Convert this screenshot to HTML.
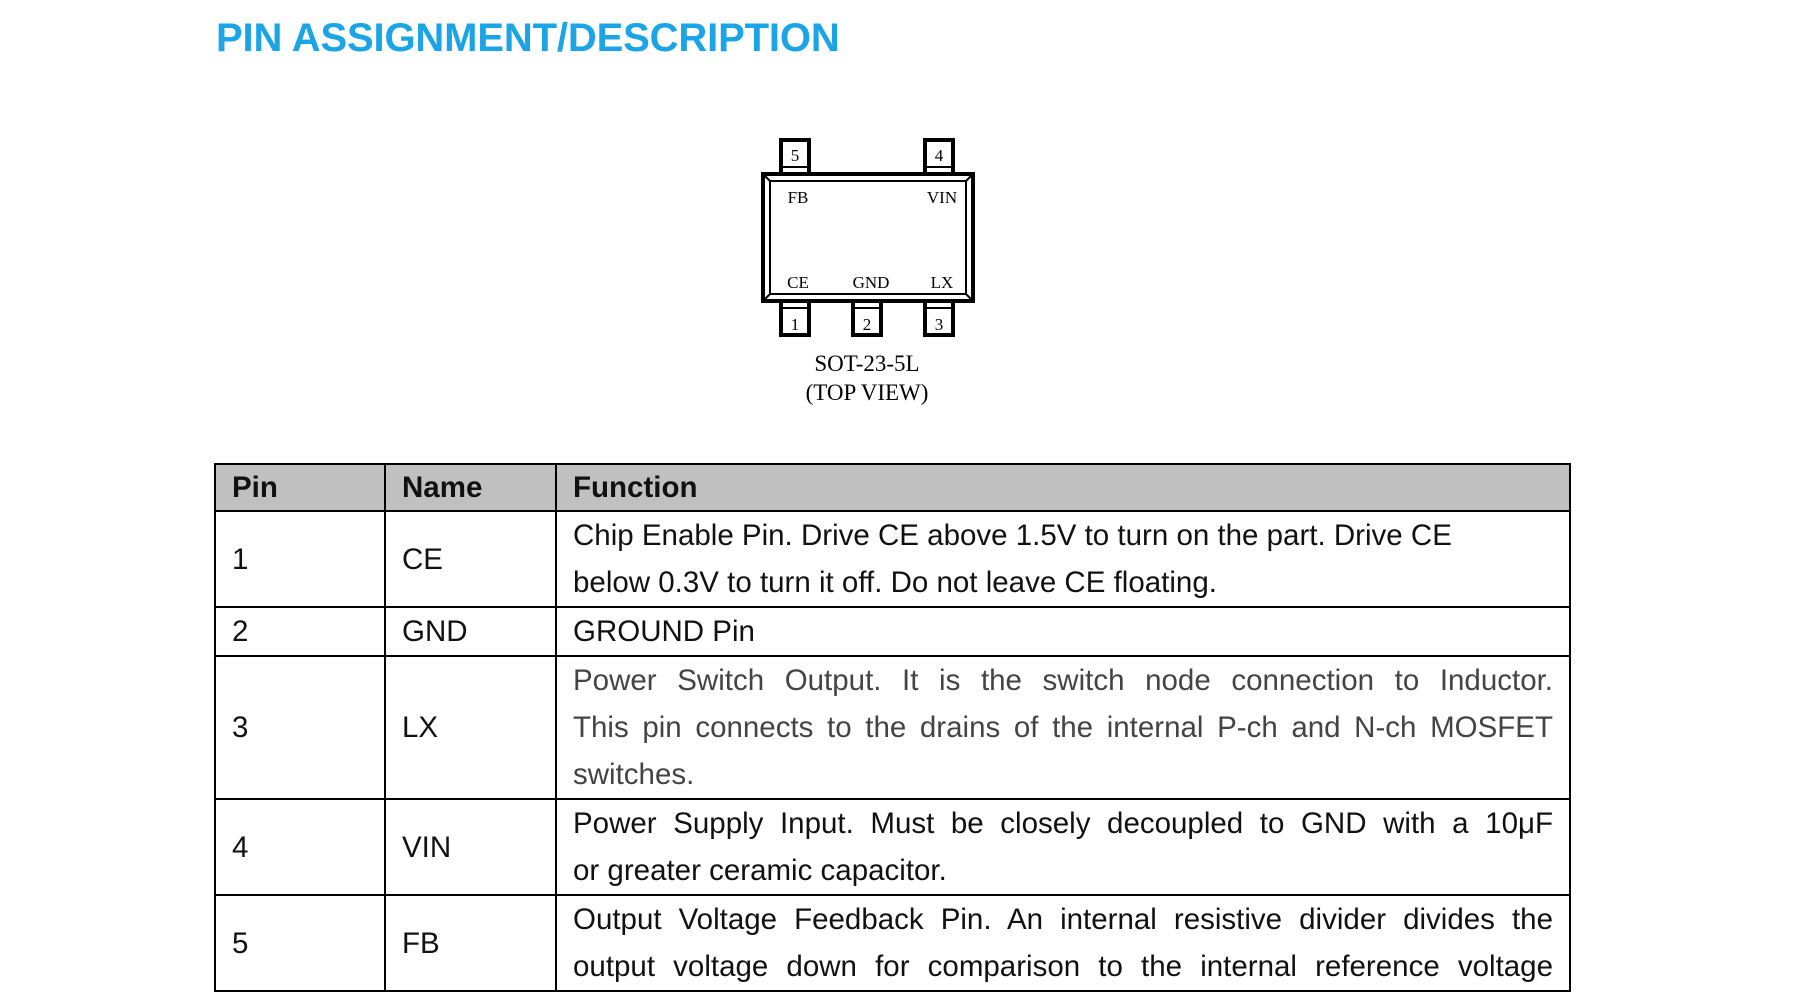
<!DOCTYPE html>
<html><head><meta charset="utf-8"><style>
body{margin:0;width:1794px;height:1005px;background:#fff;position:relative;overflow:hidden;font-family:"Liberation Sans",sans-serif}
.title{position:absolute;left:216px;top:16px;font-size:40px;font-weight:bold;color:#1ba4e6;letter-spacing:-0.15px}
table{position:absolute;left:214px;top:463px;border-collapse:collapse;font-size:29.5px;color:#111}
td{border:2px solid #000;padding:0 16px;vertical-align:middle;line-height:47px;white-space:nowrap}
th{border:2px solid #000;background:#c0c0c0;text-align:left;padding:0 16px;font-weight:bold;height:45px}
.j{text-align:justify;text-align-last:justify}
.g{color:#444}
</style></head><body>
<div class="title">PIN ASSIGNMENT/DESCRIPTION</div>
<svg width="1794" height="420" style="position:absolute;left:-1px;top:-1px" font-family="Liberation Serif" fill="none">
<g stroke="#000" stroke-width="4">
<rect x="782" y="141" width="28" height="34"/><rect x="926" y="141" width="28" height="34"/>
<rect x="782" y="302" width="28" height="34"/><rect x="854" y="302" width="28" height="34"/><rect x="926" y="302" width="28" height="34"/>
<rect x="764" y="175" width="210" height="127" fill="#fff"/>
</g>
<g stroke="#000" stroke-width="2">
<line x1="784" y1="168" x2="808" y2="168"/><line x1="928" y1="168" x2="952" y2="168"/>
<line x1="784" y1="309" x2="808" y2="309"/><line x1="856" y1="309" x2="880" y2="309"/><line x1="928" y1="309" x2="952" y2="309"/>
<rect x="771" y="182" width="196" height="113"/>
<line x1="764" y1="175" x2="771" y2="182"/><line x1="974" y1="175" x2="967" y2="182"/>
<line x1="764" y1="302" x2="771" y2="295"/><line x1="974" y1="302" x2="967" y2="295"/>
</g>
<g fill="#000" font-size="17" text-anchor="middle">
<text x="796" y="162">5</text><text x="940" y="162">4</text>
<text x="796" y="331">1</text><text x="868" y="331">2</text><text x="940" y="331">3</text>
<text x="799" y="204">FB</text><text x="943" y="204">VIN</text>
<text x="799" y="289">CE</text><text x="872" y="289">GND</text><text x="943" y="289">LX</text>
<text x="868" y="372" font-size="23">SOT-23-5L</text>
<text x="868" y="401" font-size="23">(TOP VIEW)</text>
</g>
</svg>
<table>
<tr><th style="width:136px">Pin</th><th style="width:137px">Name</th><th style="width:980px">Function</th></tr>
<tr style="height:95px"><td>1</td><td>CE</td><td><div>Chip Enable Pin. Drive CE above 1.5V to turn on the part. Drive CE</div><div>below 0.3V to turn it off. Do not leave CE floating.</div></td></tr>
<tr style="height:49px"><td>2</td><td>GND</td><td>GROUND Pin</td></tr>
<tr style="height:143px" class="g"><td style="color:#111">3</td><td style="color:#111">LX</td><td><div class="j">Power Switch Output. It is the switch node connection to Inductor.</div><div class="j">This pin connects to the drains of the internal P-ch and N-ch MOSFET</div><div>switches.</div></td></tr>
<tr style="height:95px"><td>4</td><td>VIN</td><td><div class="j">Power Supply Input. Must be closely decoupled to GND with a 10μF</div><div>or greater ceramic capacitor.</div></td></tr>
<tr style="height:94px"><td>5</td><td>FB</td><td><div class="j">Output Voltage Feedback Pin. An internal resistive divider divides the</div><div class="j">output voltage down for comparison to the internal reference voltage</div></td></tr>
</table>
</body></html>
